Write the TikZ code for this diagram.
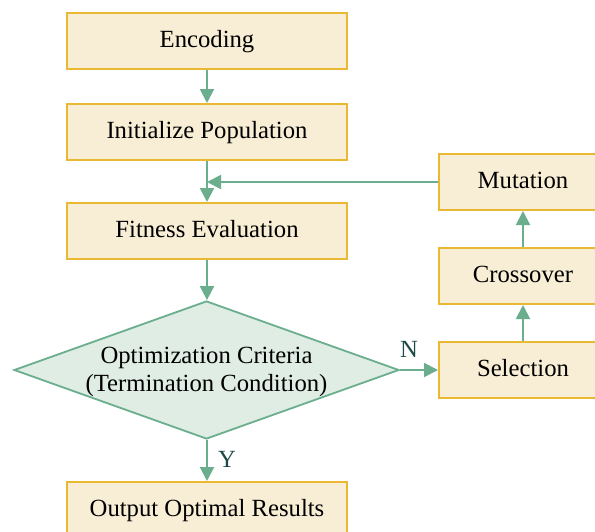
\documentclass[tikz,border=0pt]{standalone}
\usepackage{fontspec}
\setmainfont{Liberation Serif}
\usetikzlibrary{shapes.geometric,arrows.meta,calc}
\definecolor{boxfill}{HTML}{F8EED5}
\definecolor{boxline}{HTML}{E9B934}
\definecolor{diafill}{HTML}{DFEDE5}
\definecolor{greenline}{HTML}{6AAE8E}
\definecolor{labcol}{HTML}{1E4A48}
\tikzset{
  procbox/.style={draw=boxline, fill=boxfill, line width=1pt, minimum width=140pt, minimum height=28pt, inner sep=0pt, text height=0.66em, text depth=0.02em, font=\fontsize{12.35}{15}\selectfont},
  sidebox/.style={procbox, minimum width=84pt},
  decbox/.style={diamond, draw=greenline, fill=diafill, line width=0.9pt, inner sep=0pt, minimum width=192.5pt, minimum height=69pt},
  dectext/.style={align=center, inner sep=0pt, font=\fontsize{12.35}{14}\selectfont},
  flow/.style={draw=greenline, line width=1pt, -{Triangle[length=7pt,width=7pt]}},
  ynlabel/.style={text=labcol, font=\fontsize{12.35}{15}\selectfont, inner sep=0pt}
}
\begin{document}
\begin{tikzpicture}[x=0.5pt,y=-0.5pt]
\useasboundingbox (0,0) rectangle (595,531);
\clip (0,0) rectangle (595,531);
\node[procbox] (enc) at (207,41) {Encoding};
\node[procbox] (init) at (207,132) {Initialize Population};
\node[procbox] (fit) at (207,231) {Fitness Evaluation};
\node[decbox] (dia) at (206.5,370) {};
\node[dectext] (diatext) at (206.5,371.5) {Optimization Criteria\\(Termination Condition)};
\node[procbox] (out) at (207,510) {Output Optimal Results};
\node[sidebox] (mut) at (523,182) {Mutation};
\node[sidebox] (cro) at (523,276) {Crossover};
\node[sidebox] (sel) at (523,370) {Selection};
\coordinate (join) at (mut.west -| init.south);
\draw[flow] (enc.south) -- (init.north);
\draw[flow] (init.south) -- (fit.north);
\draw[flow] (mut.west) -- (join);
\draw[flow] (fit.south) -- (fit.south |- dia.north);
\draw[flow] (dia.east) -- (sel.west);
\draw[flow] (sel.north) -- (cro.south);
\draw[flow] (cro.north) -- (mut.south);
\draw[flow] (dia.south -| out.north) -- (out.north);
\node[ynlabel] (nlab) at (409,349) {N};
\node[ynlabel] (ylab) at (227,459) {Y};
\end{tikzpicture}
\end{document}
